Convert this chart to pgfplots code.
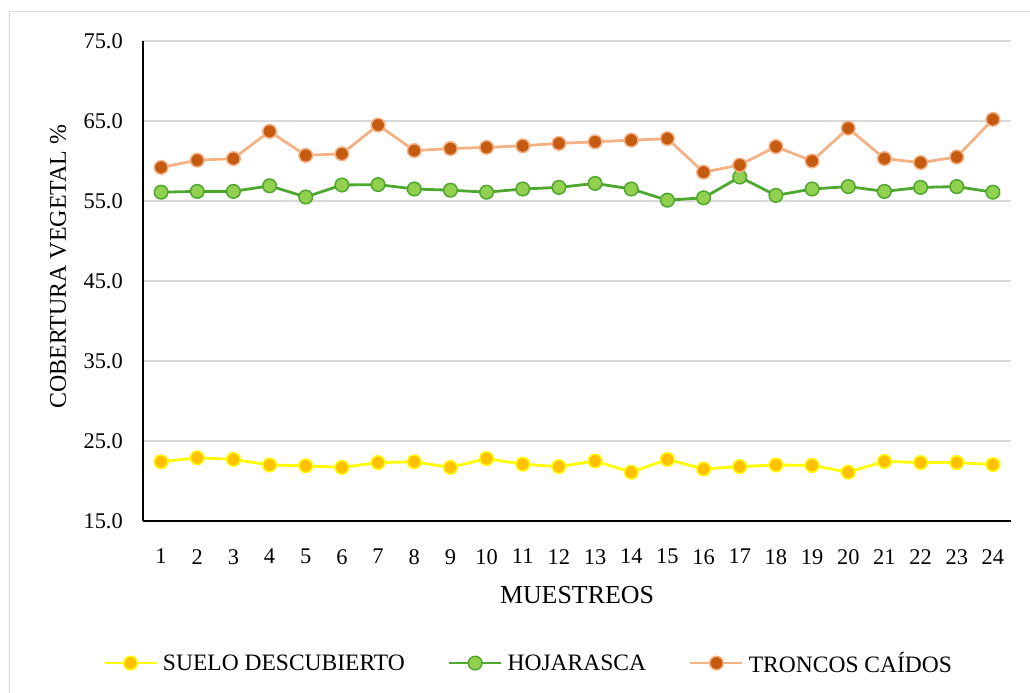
\documentclass[border=0pt]{standalone}
\usepackage{fontspec}
\setmainfont{Liberation Serif}
\usepackage{pgfplots}
\pgfplotsset{compat=1.18}
\definecolor{sueloL}{HTML}{FFFF00}
\definecolor{sueloF}{HTML}{FFC000}
\definecolor{hojaL}{HTML}{4EA72E}
\definecolor{hojaF}{HTML}{92D050}
\definecolor{tronL}{HTML}{F4B183}
\definecolor{tronF}{HTML}{C55A11}
\definecolor{gridc}{HTML}{D9D9D9}
\begin{document}
\begin{tikzpicture}[x=1bp,y=1bp]
\useasboundingbox (-143,-172) rectangle (887,521);
\draw[color=gridc, line width=1.5bp] (-133.5,-172) -- (-133.5,509.5) -- (887,509.5);
\begin{axis}[
  at={(0,0)}, anchor=south west,
  scale only axis, width=868bp, height=480bp,
  xmin=0.5, xmax=24.5, ymin=15, ymax=75,
  xtick={1,...,24}, ytick={15,25,...,75},
  axis lines*=left,
  axis line style={black, line width=1.5bp},
  major tick length=0pt,
  ymajorgrids, grid style={color=gridc, line width=1.3bp},
  /pgf/number format/assume math mode=true,
  yticklabel={\pgfmathprintnumber[fixed,fixed zerofill,precision=1]{\tick}},
  ticklabel style={font=\fontsize{22.5}{26}\selectfont},
  yticklabel style={anchor=east, inner sep=0pt, xshift=-20bp},
  xticklabel style={anchor=north, inner sep=0pt, yshift=-28bp},
  xlabel={MUESTREOS},
  ylabel={COBERTURA VEGETAL \%},
  xlabel style={at={(axis description cs:0.5,0)}, anchor=center, yshift=-73.7bp, font=\fontsize{26}{30}\selectfont, inner sep=0pt},
  ylabel style={at={(axis description cs:0,0.53)}, anchor=center, rotate=0, yshift=85bp, font=\fontsize{24}{28}\selectfont, inner sep=0pt},
  legend columns=3,
  legend style={at={(axis description cs:-0.0461,-0.296)}, anchor=west, draw=none, fill=none,
    font=\fontsize{23.6}{28}\selectfont, inner sep=0pt, nodes={inner sep=0pt},
    /tikz/every odd column/.append style={column sep=5bp},
    /tikz/every even column/.append style={column sep=43bp}},
  legend image code/.code={\draw[mark repeat=2,mark phase=2] plot coordinates {(0bp,0bp) (26bp,0bp) (52bp,0bp)};},
]
\addplot[color=sueloL, line width=2.8bp, mark=*, mark size=6.8bp, mark options={fill=sueloF, draw=sueloL, line width=1.5bp}] coordinates {
(1,22.4)(2,22.9)(3,22.7)(4,22.0)(5,21.9)(6,21.7)(7,22.3)(8,22.4)(9,21.7)(10,22.8)(11,22.1)(12,21.8)
(13,22.5)(14,21.1)(15,22.7)(16,21.5)(17,21.8)(18,22.0)(19,21.95)(20,21.1)(21,22.45)(22,22.3)(23,22.3)(24,22.05)};
\addlegendentry{SUELO DESCUBIERTO}
\addplot[color=hojaL, line width=2.8bp, mark=*, mark size=6.8bp, mark options={fill=hojaF, draw=hojaL, line width=1.5bp}] coordinates {
(1,56.1)(2,56.2)(3,56.2)(4,56.9)(5,55.5)(6,57.0)(7,57.05)(8,56.5)(9,56.35)(10,56.1)(11,56.5)(12,56.7)
(13,57.2)(14,56.5)(15,55.1)(16,55.4)(17,58.0)(18,55.7)(19,56.5)(20,56.8)(21,56.2)(22,56.7)(23,56.8)(24,56.1)};
\addlegendentry{HOJARASCA}
\addplot[color=tronL, line width=2.8bp, mark=*, mark size=6.8bp, mark options={fill=tronF, draw=tronL, line width=1.5bp}] coordinates {
(1,59.2)(2,60.1)(3,60.3)(4,63.7)(5,60.7)(6,60.9)(7,64.5)(8,61.3)(9,61.55)(10,61.7)(11,61.9)(12,62.2)
(13,62.4)(14,62.6)(15,62.8)(16,58.6)(17,59.5)(18,61.8)(19,60.0)(20,64.1)(21,60.3)(22,59.8)(23,60.5)(24,65.2)};
\addlegendentry{TRONCOS CAÍDOS}
\end{axis}
\end{tikzpicture}
\end{document}
